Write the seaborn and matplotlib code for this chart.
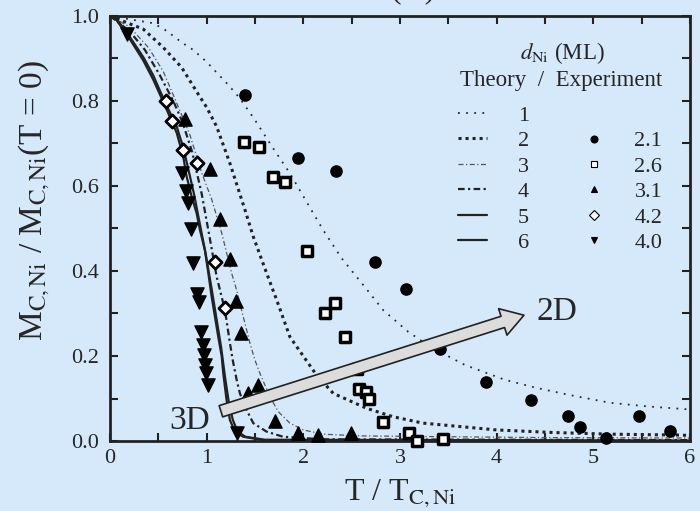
import numpy as np
import pandas as pd
import seaborn as sns
import matplotlib.pyplot as plt
from matplotlib.patches import FancyArrowPatch, ArrowStyle
from matplotlib.ticker import MultipleLocator

# theory curves (T/Tc, M/M0)
t1_x = [0, 0.448, 0.586, 0.741, 0.862, 1.0, 1.103, 1.224, 1.344, 1.489, 1.672, 1.861, 2.079,
        2.206, 2.396, 2.62, 2.826, 3.085, 3.31, 3.67, 4.085, 4.41, 4.76, 5.17, 5.58, 5.95, 6.0]
t1_y = [1.0, 0.983, 0.965, 0.938, 0.92, 0.892, 0.867, 0.838, 0.806, 0.759, 0.694, 0.63, 0.545,
        0.496, 0.43, 0.367, 0.308, 0.257, 0.222, 0.179, 0.144, 0.125, 0.108, 0.090, 0.081, 0.075, 0.074]

t2_x = [0, 0.345, 0.551, 0.741, 0.913, 1.0, 1.103, 1.241, 1.396, 1.482, 1.62, 1.724, 1.861,
        2.137, 2.31, 2.654, 2.93, 3.24, 3.62, 4.0, 4.58, 5.2, 5.89, 6.0]
t2_y = [1.0, 0.969, 0.926, 0.879, 0.816, 0.785, 0.74, 0.653, 0.544, 0.481, 0.395, 0.332, 0.245,
        0.155, 0.112, 0.077, 0.057, 0.042, 0.034, 0.026, 0.020, 0.016, 0.014, 0.013]

t3_x = [0, 0.2, 0.4, 0.55, 0.7, 0.827, 0.95, 1.05, 1.155, 1.258, 1.31, 1.379, 1.448, 1.5,
        1.551, 1.655, 1.741, 1.861, 2.0, 2.206, 2.6, 3.5, 4.5, 6.0]
t3_y = [1.0, 0.975, 0.925, 0.87, 0.79, 0.72, 0.63, 0.57, 0.49, 0.395, 0.355, 0.292, 0.23, 0.19,
        0.159, 0.104, 0.069, 0.042, 0.026, 0.016, 0.012, 0.010, 0.008, 0.007]

t4_x = [0, 0.2, 0.362, 0.517, 0.655, 0.75, 0.85, 0.95, 1.03, 1.103, 1.138, 1.189, 1.241,
        1.27, 1.31, 1.344, 1.396, 1.482, 1.62, 1.79, 2.2, 6.0]
t4_y = [1.0, 0.965, 0.92, 0.86, 0.80, 0.75, 0.68, 0.58, 0.48, 0.387, 0.355, 0.308, 0.23,
        0.19, 0.144, 0.112, 0.081, 0.042, 0.022, 0.010, 0.004, 0.002]

t5_x = [0, 0.069, 0.207, 0.345, 0.448, 0.517, 0.586, 0.69, 0.758, 0.81, 0.87, 0.93, 0.99,
        1.05, 1.1, 1.15, 1.19, 1.23, 1.27, 1.32, 1.4, 1.6, 6.0]
t5_y = [1.0, 0.993, 0.95, 0.903, 0.86, 0.824, 0.789, 0.74, 0.69, 0.64, 0.58, 0.51, 0.44,
        0.36, 0.29, 0.22, 0.15, 0.09, 0.05, 0.022, 0.010, 0.003, 0.001]

t6_x = [0, 0.069, 0.207, 0.345, 0.448, 0.517, 0.586, 0.69, 0.758, 0.793, 0.845, 0.896, 0.931,
        0.982, 1.017, 1.051, 1.086, 1.12, 1.155, 1.172, 1.206, 1.241, 1.293, 1.379, 1.585, 6.0]
t6_y = [1.0, 0.99, 0.945, 0.895, 0.85, 0.815, 0.78, 0.725, 0.669, 0.622, 0.575, 0.536, 0.496,
        0.449, 0.395, 0.34, 0.292, 0.245, 0.2, 0.159, 0.096, 0.049, 0.022, 0.010, 0.002, 0.0]

# experiment points
e21_x = [1.40, 1.94, 2.34, 2.74, 3.06, 3.41, 3.89, 4.35, 4.74, 4.86, 5.13, 5.47, 5.79]
e21_y = [0.815, 0.667, 0.636, 0.422, 0.358, 0.217, 0.140, 0.096, 0.060, 0.034, 0.006, 0.058, 0.024]

e26_x = [1.386, 1.541, 1.683, 1.813, 2.04, 2.226, 2.327, 2.433, 2.551, 2.572, 2.644, 2.675,
         2.826, 3.095, 3.178, 3.447]
e26_y = [0.704, 0.692, 0.620, 0.610, 0.448, 0.302, 0.324, 0.245, 0.169, 0.122, 0.115, 0.100,
         0.045, 0.020, 0.0, 0.004]

e31_x = [0.776, 1.034, 1.138, 1.241, 1.303, 1.352, 1.43, 1.534, 1.706, 1.947, 2.154, 2.489]
e31_y = [0.758, 0.639, 0.522, 0.428, 0.329, 0.253, 0.114, 0.132, 0.048, 0.018, 0.014, 0.020]

e42_x = [0.579, 0.638, 0.758, 0.896, 1.086, 1.189]
e42_y = [0.799, 0.754, 0.685, 0.653, 0.422, 0.312]

e40_x = [0.172, 0.741, 0.786, 0.81, 0.838, 0.862, 0.903, 0.917, 0.938, 0.958, 0.972, 0.982,
         0.993, 1.017, 1.31]
e40_y = [0.958, 0.63, 0.588, 0.559, 0.498, 0.42, 0.347, 0.328, 0.257, 0.226, 0.202, 0.179,
         0.159, 0.132, 0.018]

theory_labels = ['1', '2', '3', '4', '5', '6']
exp_labels = ['2.1', '2.6', '3.1', '4.2', '4.0']

bg = '#D6E9FB'
sns.set_style('ticks')
plt.rcParams['font.family'] = ['Liberation Serif', 'DejaVu Serif']
plt.rcParams['mathtext.fontset'] = 'stix'
plt.rcParams['axes.edgecolor'] = '#222222'

fig = plt.figure(figsize=(7, 5.11), dpi=100, facecolor=bg)
ax = fig.add_axes([110 / 700, 1 - 441 / 511, 580 / 700, 425 / 511])
ax.set_facecolor(bg)

# theory curves
styles = [
    dict(lw=1.3, ls=(0, (1, 3.5)), color='#2a2a2a'),
    dict(lw=2.2, ls=(0, (1, 1.3)), color='#222222'),
    dict(lw=0.9, ls=(0, (4, 2, 1, 2)), color='#555555'),
    dict(lw=1.6, ls=(0, (3, 1.5, 1, 1.5)), color='#222222'),
    dict(lw=1.6, ls='-', color='#222222'),
    dict(lw=1.6, ls='-', color='#222222'),
]
curves = [(t1_x, t1_y), (t2_x, t2_y), (t3_x, t3_y), (t4_x, t4_y), (t5_x, t5_y), (t6_x, t6_y)]
for (cx, cy), st in zip(curves, styles):
    sns.lineplot(x=cx, y=cy, ax=ax, estimator=None, sort=False,
                 color=st['color'], linewidth=st['lw'], linestyle=st['ls'])
theory_handles = list(ax.lines)

# experimental points
exp_sets = [(e21_x, e21_y, 'o', 'k', 'k', 1.0, 65),
            (e26_x, e26_y, 's', 'white', 'k', 2.5, 55),
            (e31_x, e31_y, '^', 'k', 'k', 1.0, 90),
            (e42_x, e42_y, 'D', 'white', 'k', 2.0, 45),
            (e40_x, e40_y, 'v', 'k', 'k', 1.0, 90)]
exp_handles = []
for ex, ey, mk, fc, ec, mew, s in exp_sets:
    sns.scatterplot(x=ex, y=ey, ax=ax, marker=mk, color=fc, edgecolor=ec,
                    linewidth=mew, s=s, zorder=4, clip_on=False)
    exp_handles.append(plt.Line2D([], [], ls='none', marker=mk, markerfacecolor=fc,
                                  markeredgecolor=ec, markeredgewidth=0.8, markersize=5))

ax.set_xlim(0, 6)
ax.set_ylim(0, 1.0)
ax.xaxis.set_major_locator(MultipleLocator(1))
ax.xaxis.set_minor_locator(MultipleLocator(0.5))
ax.yaxis.set_major_locator(MultipleLocator(0.2))
ax.yaxis.set_minor_locator(MultipleLocator(0.1))
ax.yaxis.set_major_formatter(plt.FormatStrFormatter('%.1f'))
ax.tick_params(which='both', direction='in', top=True, right=True, length=6, width=1.5,
               color='#222222', labelsize=16)
ax.tick_params(axis='x', pad=6)
ax.tick_params(axis='y', pad=8)
for sp in ax.spines.values():
    sp.set_linewidth(2)

ax.set_xlabel(r'T / T$_{\rm C,Ni}$', fontsize=23)
ax.xaxis.set_label_coords(0.5, -0.085)
ax.set_ylabel(r'M$_{\rm C,Ni}$ / M$_{\rm C,Ni}$(T = 0)', fontsize=24)
ax.yaxis.set_label_coords(-0.1, 0.567)

fig.text(400 / 700, 1.006, 'T (K)', ha='center', va='baseline', fontsize=23)

# legend
ax.text(0.78, 0.913, r'$d_{\rm Ni}$ (ML)', transform=ax.transAxes, ha='center',
        va='center', fontsize=16.5)
ax.text(0.777, 0.849, 'Theory  /  Experiment', transform=ax.transAxes, ha='center',
        va='center', fontsize=16.5)
leg1 = ax.legend(theory_handles, theory_labels, loc='upper left',
                 bbox_to_anchor=(0.6, 0.79), frameon=False, fontsize=16,
                 handlelength=1.3, handletextpad=1.4, labelspacing=0.22,
                 borderpad=0, borderaxespad=0)
ax.add_artist(leg1)
ax.legend(exp_handles, exp_labels, loc='upper left', bbox_to_anchor=(0.82, 0.73),
          frameon=False, fontsize=16, handlelength=0.8, handletextpad=1.4,
          labelspacing=0.22, borderpad=0, borderaxespad=0)

# 3D -> 2D arrow
arrow = FancyArrowPatch((1.12, 0.068), (4.31, 0.298),
                        arrowstyle=ArrowStyle.Simple(head_length=16, head_width=20,
                                                     tail_width=8.5),
                        mutation_scale=1, facecolor='#DCDCDC', edgecolor='#222222',
                        linewidth=1.2, zorder=5)
ax.add_patch(arrow)
ax.text(0.82, 0.048, '3D', fontsize=24, ha='center', va='center')
ax.text(4.62, 0.304, '2D', fontsize=24, ha='center', va='center')

fig.savefig('out.png', dpi=100, facecolor=bg)
